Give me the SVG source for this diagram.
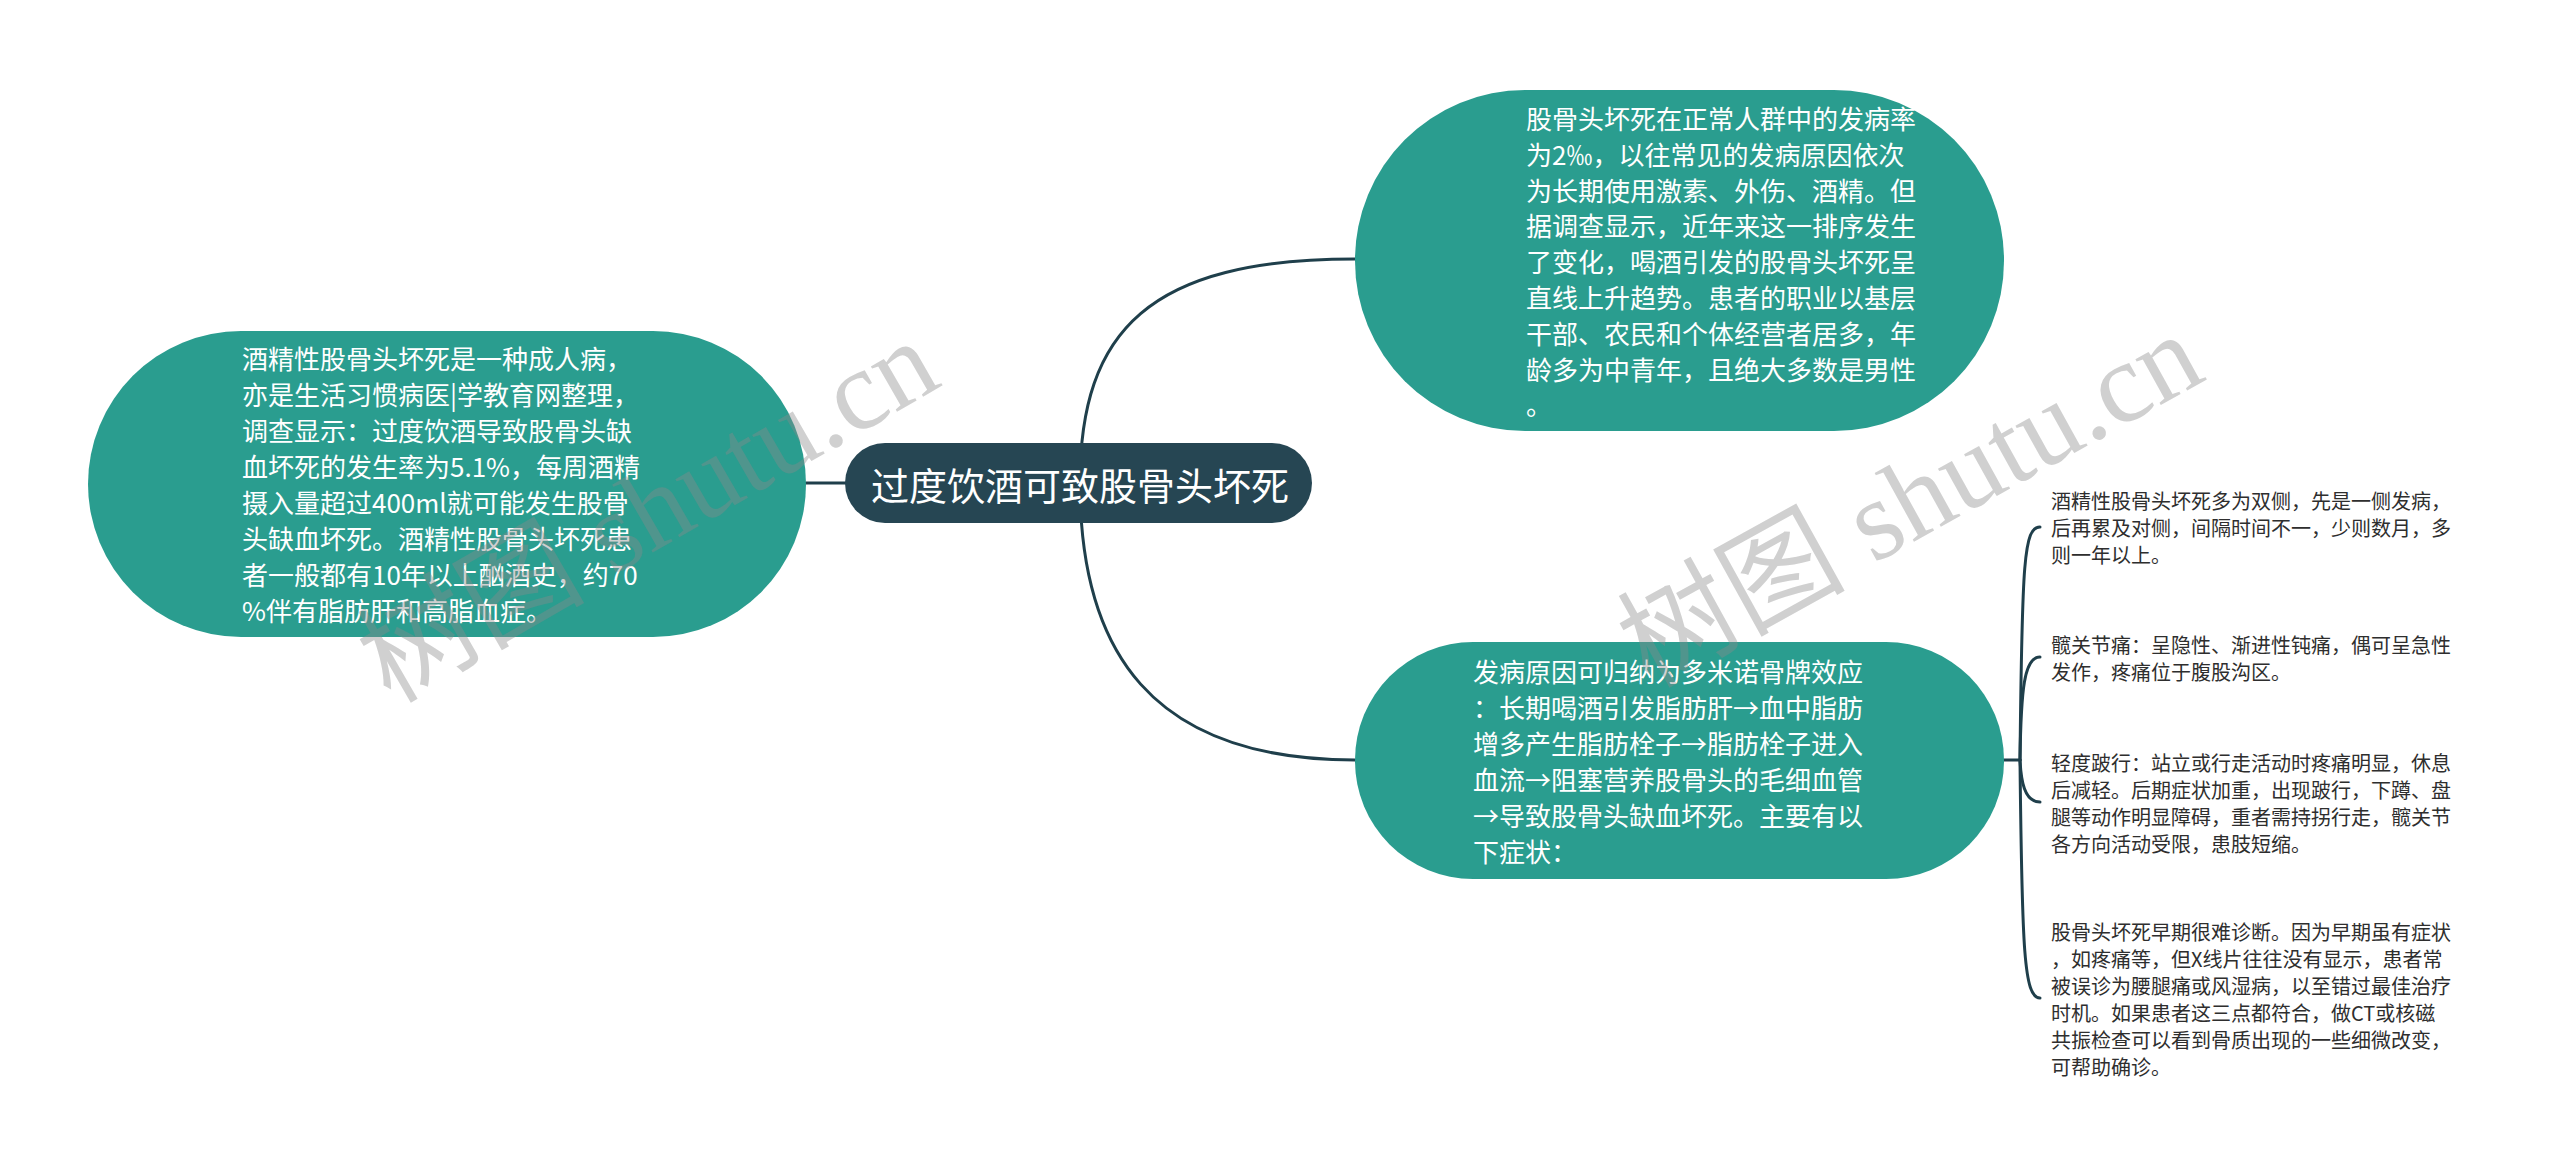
<svg xmlns="http://www.w3.org/2000/svg" width="2560" height="1174" viewBox="0 0 2560 1174">
<style>
.bg{fill:#ffffff}
.conn{fill:none;stroke:#1f3f4b;stroke-width:3;stroke-linecap:round}
.root{fill:#264653}
.main{fill:#2a9d8f}
.t{font-family:"Noto Sans CJK SC","Noto Sans",sans-serif}
.rt{fill:#ffffff;font-size:38px}
.mt{fill:#ffffff;font-size:26px}
.lt{fill:#2e2e2e;font-size:20px}
.wm{font-family:"Liberation Serif","Noto Sans CJK SC",serif;font-size:114px;fill:#8a8a8a;fill-opacity:0.4}
</style>
<rect class="bg" x="0" y="0" width="2560" height="1174"/>
<g id="connectors">
<path class="conn" d="M806,483 H846"/>
<path class="conn" d="M1080,483 C1080,330 1150,259 1355,259"/>
<path class="conn" d="M1080,483 C1080,650 1150,760 1355,760"/>
<path class="conn" d="M2004,760 H2020"/>
<path class="conn" d="M2020,760 C2022,560 2024,527 2040,527"/>
<path class="conn" d="M2020,760 C2021,690 2024,657 2040,657"/>
<path class="conn" d="M2020,760 C2021,780 2024,802 2040,802"/>
<path class="conn" d="M2020,760 C2022,950 2024,998 2040,998"/>
</g>
<g id="root">
<rect class="root" x="845" y="443" width="467" height="80" rx="40"/>
<text class="t rt" x="1080" y="483" text-anchor="middle" dominant-baseline="central">过度饮酒可致股骨头坏死</text>
</g>
<g id="left-node">
<rect class="main" x="88" y="331" width="718" height="306" rx="153"/>
<text class="t mt" dominant-baseline="central">
<tspan x="242" y="357">酒精性股骨头坏死是一种成人病，</tspan>
<tspan x="242" y="393">亦是生活习惯病医|学教育网整理，</tspan>
<tspan x="242" y="429">调查显示：过度饮酒导致股骨头缺</tspan>
<tspan x="242" y="465">血坏死的发生率为5.1%，每周酒精</tspan>
<tspan x="242" y="501">摄入量超过400ml就可能发生股骨</tspan>
<tspan x="242" y="537">头缺血坏死。酒精性股骨头坏死患</tspan>
<tspan x="242" y="573">者一般都有10年以上酗酒史，约70</tspan>
<tspan x="242" y="609">%伴有脂肪肝和高脂血症。</tspan>
</text>
</g>
<g id="top-right-node">
<rect class="main" x="1355" y="90" width="649" height="341" rx="170"/>
<text class="t mt" dominant-baseline="central">
<tspan x="1526" y="117">股骨头坏死在正常人群中的发病率</tspan>
<tspan x="1526" y="153">为2‰，以往常见的发病原因依次</tspan>
<tspan x="1526" y="189">为长期使用激素、外伤、酒精。但</tspan>
<tspan x="1526" y="224">据调查显示，近年来这一排序发生</tspan>
<tspan x="1526" y="260">了变化，喝酒引发的股骨头坏死呈</tspan>
<tspan x="1526" y="296">直线上升趋势。患者的职业以基层</tspan>
<tspan x="1526" y="332">干部、农民和个体经营者居多，年</tspan>
<tspan x="1526" y="368">龄多为中青年，且绝大多数是男性</tspan>
<tspan x="1526" y="403">。</tspan>
</text>
</g>
<g id="bottom-right-node">
<rect class="main" x="1355" y="642" width="649" height="237" rx="118"/>
<text class="t mt" dominant-baseline="central">
<tspan x="1473" y="670">发病原因可归纳为多米诺骨牌效应</tspan>
<tspan x="1473" y="706">：长期喝酒引发脂肪肝→血中脂肪</tspan>
<tspan x="1473" y="742">增多产生脂肪栓子→脂肪栓子进入</tspan>
<tspan x="1473" y="778">血流→阻塞营养股骨头的毛细血管</tspan>
<tspan x="1473" y="814">→导致股骨头缺血坏死。主要有以</tspan>
<tspan x="1473" y="850">下症状：</tspan>
</text>
</g>
<g id="leaf-1">
<text class="t lt" dominant-baseline="central">
<tspan x="2051" y="500">酒精性股骨头坏死多为双侧，先是一侧发病，</tspan>
<tspan x="2051" y="527">后再累及对侧，间隔时间不一，少则数月，多</tspan>
<tspan x="2051" y="554">则一年以上。</tspan>
</text>
</g>
<g id="leaf-2">
<text class="t lt" dominant-baseline="central">
<tspan x="2051" y="644">髋关节痛：呈隐性、渐进性钝痛，偶可呈急性</tspan>
<tspan x="2051" y="671">发作，疼痛位于腹股沟区。</tspan>
</text>
</g>
<g id="leaf-3">
<text class="t lt" dominant-baseline="central">
<tspan x="2051" y="762">轻度跛行：站立或行走活动时疼痛明显，休息</tspan>
<tspan x="2051" y="789">后减轻。后期症状加重，出现跛行，下蹲、盘</tspan>
<tspan x="2051" y="816">腿等动作明显障碍，重者需持拐行走，髋关节</tspan>
<tspan x="2051" y="843">各方向活动受限，患肢短缩。</tspan>
</text>
</g>
<g id="leaf-4">
<text class="t lt" dominant-baseline="central">
<tspan x="2051" y="931">股骨头坏死早期很难诊断。因为早期虽有症状</tspan>
<tspan x="2051" y="958">，如疼痛等，但X线片往往没有显示，患者常</tspan>
<tspan x="2051" y="985">被误诊为腰腿痛或风湿病，以至错过最佳治疗</tspan>
<tspan x="2051" y="1012">时机。如果患者这三点都符合，做CT或核磁</tspan>
<tspan x="2051" y="1039">共振检查可以看到骨质出现的一些细微改变，</tspan>
<tspan x="2051" y="1066">可帮助确诊。</tspan>
</text>
</g>
<g id="watermarks">
<text class="wm" x="648" y="511" text-anchor="middle" dominant-baseline="central" transform="rotate(-30 648 511)">树图 shutu.cn</text>
<text class="wm" x="1910" y="500" text-anchor="middle" dominant-baseline="central" transform="rotate(-29 1910 500)">树图 shutu.cn</text>
</g>
</svg>
